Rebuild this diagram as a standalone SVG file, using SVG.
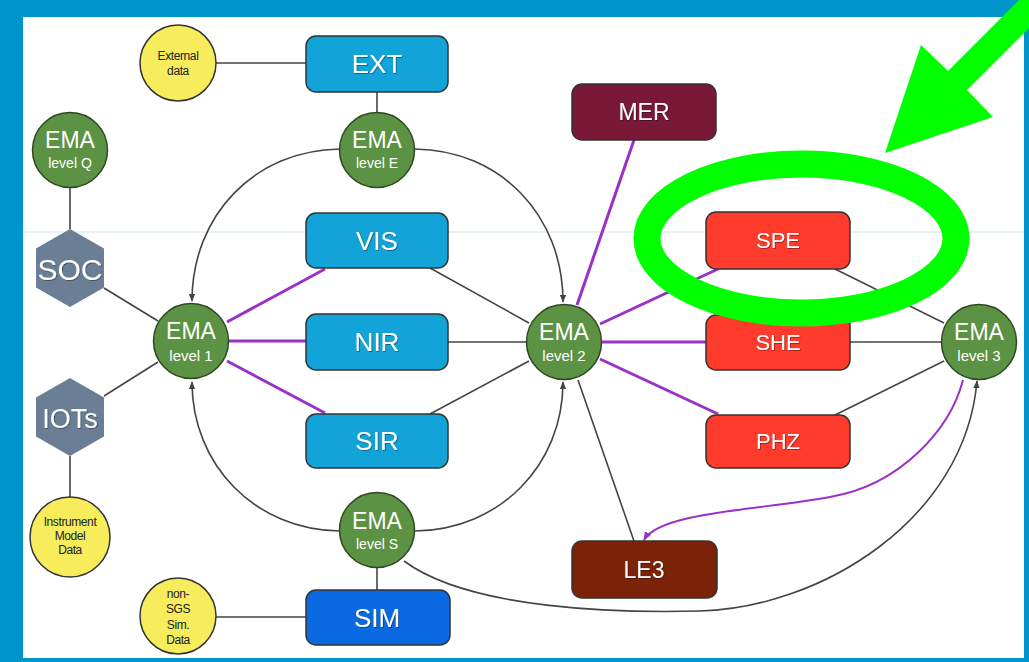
<svg xmlns="http://www.w3.org/2000/svg" width="1029" height="662" viewBox="0 0 1029 662">
<style>
.bx{stroke:#333;stroke-width:1.5}
.cyan{fill:#12A3D8}
.red{fill:#FF3B2C}
.ema{fill:#5C9243;stroke:#2f4a22;stroke-width:1.5}
.yel{fill:#F6EC5C;stroke:#333;stroke-width:1.5}
.hex{fill:#6A7E95}
.g{fill:none;stroke:#444;stroke-width:1.6}
.p{fill:none;stroke:#9B30C8;stroke-width:3}
.pc{fill:none;stroke:#9B30C8;stroke-width:2}
.bt{font-family:"Liberation Sans",Arial,sans-serif;fill:#fff;text-anchor:middle;filter:url(#sh)}
.et{font-family:"Liberation Sans",Arial,sans-serif;fill:#fff;text-anchor:middle}
.st{font-family:"Liberation Sans",Arial,sans-serif;fill:#222;text-anchor:middle;font-size:12px;letter-spacing:-0.4px}
</style>
<defs>
<filter id="sh" x="-20%" y="-20%" width="140%" height="140%"><feDropShadow dx="0.8" dy="0.8" stdDeviation="0.6" flood-color="#000" flood-opacity="0.45"/></filter>
<marker id="ag" viewBox="0 0 10 10" refX="9" refY="5" markerWidth="8" markerHeight="8" markerUnits="userSpaceOnUse" orient="auto"><path d="M0,1 L10,5 L0,9 z" fill="#444"/></marker>
<marker id="ap" viewBox="0 0 10 10" refX="9" refY="5" markerWidth="9" markerHeight="9" markerUnits="userSpaceOnUse" orient="auto"><path d="M0,1 L10,5 L0,9 z" fill="#9B30C8"/></marker>
</defs>
<rect x="0" y="0" width="1029" height="662" fill="#0094CD"/>
<rect x="23" y="17" width="1001" height="641" fill="#fff"/>
<line x1="23" y1="232" x2="1024" y2="232" stroke="#cfe7f4" stroke-width="1.2"/>

<g id="connectors">
<line class="g" x1="216" y1="63" x2="306" y2="63"/>
<line class="g" x1="377" y1="92" x2="377" y2="112"/>
<line class="g" x1="70" y1="188" x2="70" y2="229"/>
<line class="g" x1="70" y1="456" x2="70" y2="497"/>
<line class="g" x1="216" y1="617" x2="306" y2="617"/>
<line class="g" x1="377" y1="568" x2="377" y2="590"/>
<line class="g" x1="104" y1="288" x2="158" y2="321"/>
<line class="g" x1="104" y1="396" x2="158" y2="362"/>
<path class="g" d="M340,149 C255,150 192,215 192,301" marker-end="url(#ag)"/>
<path class="g" d="M415,149 C500,150 563,215 563,302" marker-end="url(#ag)"/>
<path class="g" d="M340,531 C255,530 192,465 192,382" marker-end="url(#ag)"/>
<path class="g" d="M415,531 C500,530 563,465 563,382" marker-end="url(#ag)"/>
<line class="g" x1="430" y1="268" x2="529" y2="323"/>
<line class="g" x1="448" y1="342" x2="527" y2="342"/>
<line class="g" x1="430" y1="414" x2="529" y2="361"/>
<line class="g" x1="578" y1="380" x2="634" y2="541"/>
<line class="g" x1="835" y1="269" x2="944" y2="323"/>
<line class="g" x1="850" y1="342" x2="942" y2="342"/>
<line class="g" x1="835" y1="415" x2="944" y2="361"/>
<path class="g" d="M404,561 C470,610 620,613 700,611 C820,608 965,520 977,381" marker-end="url(#ag)"/>
<line class="p" x1="227" y1="322" x2="325" y2="269"/>
<line class="p" x1="229" y1="341" x2="306" y2="341"/>
<line class="p" x1="227" y1="361" x2="325" y2="413"/>
<line class="p" x1="577" y1="305" x2="634" y2="140"/>
<line class="p" x1="600" y1="324" x2="718" y2="269"/>
<line class="p" x1="602" y1="342" x2="706" y2="342"/>
<line class="p" x1="600" y1="359" x2="718" y2="414"/>
<path class="pc" d="M963,380 C950,430 900,485 830,497 C760,510 660,512 644,540" marker-end="url(#ap)"/>
</g>

<g id="ext-data"><circle class="yel" cx="178" cy="63" r="38"/><text class="st" x="178" y="60">External</text><text class="st" x="178" y="75">data</text></g>
<g id="ext"><rect class="bx cyan" x="306" y="36" width="142" height="56" rx="10"/><text class="bt" x="377" y="73" font-size="26">EXT</text></g>
<g id="ema-e"><circle class="ema" cx="377" cy="150" r="37.5"/><text class="et" x="377" y="148" font-size="23">EMA</text><text class="et" x="377" y="168" font-size="14">level E</text></g>
<g id="ema-q"><circle class="ema" cx="70" cy="150" r="37.5"/><text class="et" x="70" y="148" font-size="23">EMA</text><text class="et" x="70" y="168" font-size="14">level Q</text></g>
<g id="soc"><polygon class="hex" points="70,229 104,248.5 104,287.5 70,307 36,287.5 36,248.5"/><text class="bt" x="70" y="280" font-size="30">SOC</text></g>
<g id="iots"><polygon class="hex" points="70,378 104,397.5 104,436.5 70,456 36,436.5 36,397.5"/><text class="bt" x="70" y="428" font-size="27">IOTs</text></g>
<g id="instrument"><circle class="yel" cx="70" cy="537" r="40"/><text class="st" x="70" y="526">Instrument</text><text class="st" x="70" y="540">Model</text><text class="st" x="70" y="554">Data</text></g>
<g id="ema-1"><circle class="ema" cx="191" cy="341" r="37.5"/><text class="et" x="191" y="339" font-size="23">EMA</text><text class="et" x="191" y="361" font-size="15">level 1</text></g>
<g id="vis"><rect class="bx cyan" x="306" y="213" width="142" height="55" rx="10"/><text class="bt" x="377" y="250" font-size="26">VIS</text></g>
<g id="nir"><rect class="bx cyan" x="306" y="314" width="142" height="56" rx="10"/><text class="bt" x="377" y="351" font-size="26">NIR</text></g>
<g id="sir"><rect class="bx cyan" x="306" y="414" width="142" height="54" rx="10"/><text class="bt" x="377" y="450" font-size="26">SIR</text></g>
<g id="ema-s"><circle class="ema" cx="377" cy="530" r="37.5"/><text class="et" x="377" y="529" font-size="23">EMA</text><text class="et" x="377" y="549" font-size="14">level S</text></g>
<g id="non-sgs"><circle class="yel" cx="178" cy="616" r="38"/><text class="st" x="178" y="598">non-</text><text class="st" x="178" y="613">SGS</text><text class="st" x="178" y="629">Sim.</text><text class="st" x="178" y="644">Data</text></g>
<g id="sim"><rect class="bx" fill="#0A69E0" x="306" y="590" width="144" height="55" rx="10"/><text class="bt" x="377" y="627" font-size="26">SIM</text></g>
<g id="mer"><rect class="bx" fill="#7A1838" x="572" y="84" width="144" height="56" rx="10"/><text class="bt" x="644" y="120" font-size="23">MER</text></g>
<g id="ema-2"><circle class="ema" cx="564" cy="342" r="37.5"/><text class="et" x="564" y="340" font-size="23">EMA</text><text class="et" x="564" y="361" font-size="15">level 2</text></g>
<g id="spe"><rect class="bx red" x="706" y="212" width="144" height="57" rx="10"/><text class="bt" x="778" y="248" font-size="22">SPE</text></g>
<g id="she"><rect class="bx red" x="706" y="315" width="144" height="55" rx="10"/><text class="bt" x="778" y="350" font-size="22">SHE</text></g>
<g id="phz"><rect class="bx red" x="706" y="415" width="144" height="53" rx="10"/><text class="bt" x="778" y="449" font-size="22">PHZ</text></g>
<g id="ema-3"><circle class="ema" cx="979" cy="342" r="37.5"/><text class="et" x="979" y="340" font-size="23">EMA</text><text class="et" x="979" y="361" font-size="15">level 3</text></g>
<g id="le3"><rect class="bx" fill="#7A2308" x="572" y="541" width="145" height="57" rx="10"/><text class="bt" x="644" y="578" font-size="23">LE3</text></g>

<g id="highlight">
<ellipse cx="801.5" cy="238.5" rx="154.5" ry="74.5" fill="none" stroke="#00FF00" stroke-width="27"/>
<polygon points="885,153 921,45 948,71 1040,-21 1078,-21 967,90 993,117" fill="#00FF00"/>
</g>
</svg>
